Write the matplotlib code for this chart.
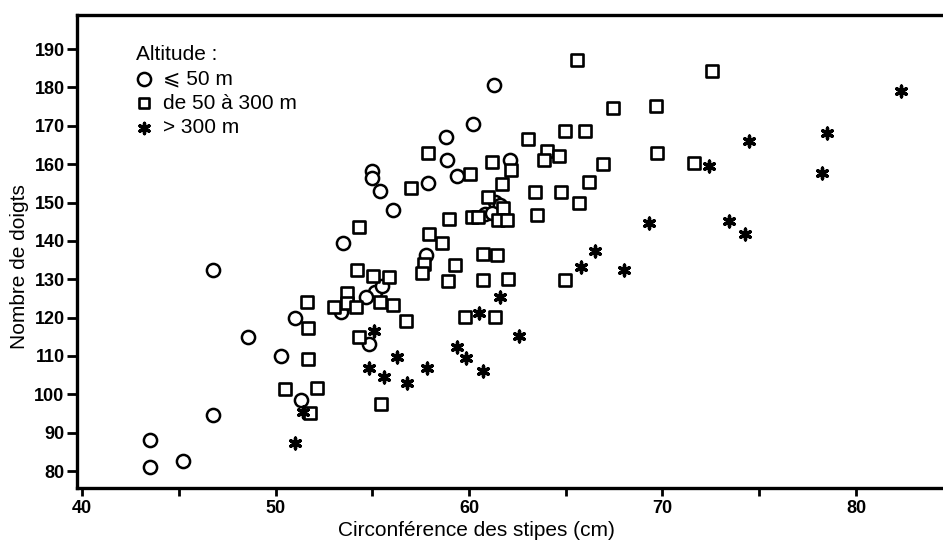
import matplotlib
matplotlib.use("Agg")
import matplotlib.pyplot as plt
from matplotlib.ticker import MultipleLocator

plt.rcParams['font.family'] = ['Liberation Sans', 'DejaVu Sans']

# altitude <= 50 m
low_x = [43.5, 43.5, 45.2, 46.75, 46.75, 48.6, 50.3, 51.0, 51.3, 53.4,
         53.5, 54.85, 55.0, 55.0, 55.4, 55.14, 55.5, 54.7, 56.06, 57.8,
         57.9, 58.85, 58.8, 59.4, 60.2, 61.3, 61.35, 61.6, 60.85, 61.17, 62.1]
low_y = [88, 81, 82.5, 132.5, 94.5, 115, 110, 120, 98.5, 121.5,
         139.5, 113, 158.3, 156.3, 153.1, 126.7, 128.3, 125.4, 148, 136.3,
         155.2, 161.1, 167, 156.8, 170.5, 180.7, 150.2, 149.3, 147, 147.2, 161.1]

# altitude 50 - 300 m
mid_x = [51.65, 51.7, 51.7, 50.5, 52.15, 51.8, 53.0, 53.68, 53.68, 54.16,
         54.2, 54.3, 54.3, 55.06, 55.87, 55.4, 56.06, 56.74, 55.47, 57.0,
         57.9, 58.98, 57.92, 58.6, 57.67, 57.55, 59.3, 58.93, 60.7, 62.03,
         60.74, 61.46, 59.8, 61.33, 60.05, 61.17, 62.15, 61.7, 61.0, 61.78,
         60.14, 60.48, 61.51, 61.95, 63.4, 63.5, 63.05, 64.94, 65.97, 64.05,
         63.9, 64.66, 65.6, 72.56, 67.46, 69.66, 66.94, 69.73, 71.63, 66.22,
         64.77, 65.67, 64.94]
mid_y = [124.1, 117.4, 109.3, 101.3, 101.6, 95, 122.8, 126.3, 123.7, 122.7,
         132.5, 143.5, 114.9, 130.8, 130.6, 124.1, 123.3, 119.2, 97.5, 153.9,
         162.8, 145.7, 141.8, 139.4, 134.1, 131.7, 133.7, 129.6, 129.8, 130,
         136.6, 136.3, 120.1, 120.1, 157.4, 160.6, 158.5, 154.8, 151.5, 148.5,
         146.1, 146.1, 145.4, 145.4, 152.8, 146.7, 166.5, 168.6, 168.7, 163.5,
         161.1, 162.1, 187.1, 184.4, 174.6, 175.2, 160, 163, 160.4, 155.3,
         152.7, 149.8, 129.8]

# altitude > 300 m
high_x = [51.0, 51.4, 55.1, 54.85, 56.26, 55.6, 56.78, 57.85, 59.36, 59.85,
          60.74, 60.53, 61.6, 62.6, 65.77, 66.49, 68.01, 69.28, 73.44, 74.28,
          72.39, 74.45, 78.24, 78.48, 82.34]
high_y = [87.2, 95.3, 116.5, 106.8, 109.6, 104.4, 103, 106.8, 112.3, 109.4,
          106.1, 121.3, 125.3, 115.2, 133.3, 137.4, 132.4, 144.6, 145.1, 141.8,
          159.5, 166.1, 157.6, 168.2, 179.1]

legend_title = "Altitude :"
legend_labels = ["⩽ 50 m", "de 50 à 300 m", "> 300 m"]

fig = plt.figure(figsize=(9.43, 5.45), dpi=100)
ax = fig.add_axes([0.0817, 0.1046, 0.9183, 0.8679])

ax.scatter(low_x, low_y, s=90, marker='o', facecolors='white',
           edgecolors='black', linewidths=1.8, zorder=3)
ax.scatter(mid_x, mid_y, s=70, marker='s', facecolors='white',
           edgecolors='black', linewidths=1.9, zorder=3)
ax.scatter(high_x, high_y, s=60, marker=(6, 2, 0), color='black',
           linewidths=2.4, zorder=4)

ax.set_xlim(39.74, 84.5)
ax.set_ylim(75.57, 198.9)
ax.xaxis.set_major_locator(MultipleLocator(10))
ax.xaxis.set_minor_locator(MultipleLocator(5))
ax.set_yticks(range(80, 191, 10))

for s in ['left', 'bottom', 'top']:
    ax.spines[s].set_linewidth(2.4)
ax.spines['right'].set_visible(False)
ax.tick_params(axis='y', which='major', direction='out', length=7,
               width=2, labelsize=13, pad=2)
ax.tick_params(axis='x', which='major', direction='out', length=6,
               width=2, labelsize=13, pad=3)
ax.tick_params(axis='x', which='minor', direction='out', length=6, width=2)
for lab in ax.get_xticklabels() + ax.get_yticklabels():
    lab.set_fontweight('bold')

ax.set_xlabel("Circonférence des stipes (cm)", fontsize=15, va='center')
ax.xaxis.set_label_coords(0.461, -0.09)
ax.set_ylabel("Nombre de doigts", fontsize=15, va='center')
ax.yaxis.set_label_coords(-0.066, 0.469)

# hand-made legend in the upper left corner
ax.text(0.068, 0.917, legend_title, transform=ax.transAxes, fontsize=15,
        va='center', ha='left')
ys = [0.864, 0.813, 0.762]
ax.scatter([0.0768], [ys[0]], s=90, marker='o', facecolors='white',
           edgecolors='black', linewidths=1.8, transform=ax.transAxes)
ax.scatter([0.0768], [ys[1]], s=60, marker='s', facecolors='white',
           edgecolors='black', linewidths=1.9, transform=ax.transAxes)
ax.scatter([0.0768], [ys[2]], s=55, marker=(6, 2, 0), color='black',
           linewidths=2.4, transform=ax.transAxes)
for y, lab in zip(ys, legend_labels):
    ax.text(0.099, y, lab, transform=ax.transAxes, fontsize=15,
            va='center', ha='left')

fig.savefig("out.png", dpi=100)
